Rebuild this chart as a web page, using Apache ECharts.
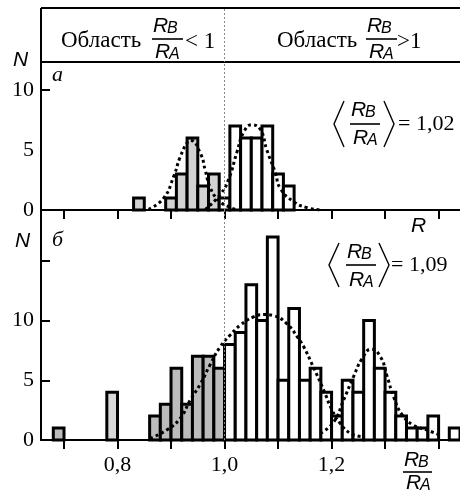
<!DOCTYPE html>
<html><head><meta charset="utf-8">
<script src="https://cdn.jsdelivr.net/npm/echarts@6/dist/echarts.min.js"></script>
<style>html,body{margin:0;padding:0;background:#fff}#c{width:460px;height:494px}</style>
</head><body><div id="c"></div>
<script>
// ---------- data ----------
const binWidth = 0.02;
const topBinStarts = [0.83,0.89,0.91,0.93,0.95,0.97,0.99,1.01,1.03,1.05,1.07,1.09,1.11];
const topCounts    = [1,   1,   3,   6,   2,   3,   1,   7,   6,   6,   7,   3,   2];
const bottomBinStarts = [0.68,0.78,0.86,0.88,0.90,0.92,0.94,0.96,0.98,1.00,1.02,1.04,1.06,1.08,1.10,1.12,1.14,1.16,1.18,1.20,1.22,1.24,1.26,1.28,1.30,1.32,1.34,1.36,1.38,1.42];
const bottomCounts    = [1,   4,   2,   3,   6,   3,   7,   7,   6,   8,   9,   13,  10,  17,  5,   11,  5,   6,   4,   2,   5,   4,   10,  6,   4,   2,   1,   1,   2,   1];
const lightBins = [0.78];

const topCurveLeft = [[0.858,0.06],[0.886,0.97],[0.905,2.8],[0.917,4.4],[0.930,5.6],[0.937,5.8],[0.955,4.7],[0.964,3.3],[0.973,1.9],[0.989,0.8],[1.011,0.2],[1.023,0.05]];
const topCurveRight = [[0.964,0.05],[0.992,1.3],[1.008,2.6],[1.023,4.8],[1.036,6.5],[1.051,7.1],[1.067,6.7],[1.079,5.0],[1.095,3.1],[1.104,1.8],[1.129,0.7],[1.154,0.2],[1.179,0]];
const bottomCurveMain = [[0.861,0.14],[0.892,0.84],[0.917,1.8],[0.936,3.35],[0.955,4.7],[0.973,6.3],[0.992,7.8],[1.011,8.8],[1.029,9.6],[1.054,10.3],[1.073,10.5],[1.092,10.4],[1.117,9.7],[1.138,8.5],[1.148,7.8],[1.166,6.1],[1.185,4.2],[1.201,2.5],[1.216,1.4],[1.235,0.56],[1.257,0.28]];
const bottomCurveRight = [[1.179,0.56],[1.204,1.5],[1.222,3.3],[1.241,5.3],[1.257,6.8],[1.274,7.6],[1.291,7.0],[1.304,5.3],[1.316,3.6],[1.332,2.1],[1.353,1.25],[1.378,0.84],[1.403,0.4]];

const xTickValues = [0.7,0.8,0.9,1.0,1.1,1.2,1.3,1.4];
const xLabelValues = [0.8,1.0,1.2];
const topYTicks = [10];
const topYLabels = [0,5,10];
const bottomYTicks = [5,10,15];
const bottomYLabels = [0,5,10];
const refValue = 1.0;

// ---------- styling ----------
const serif = '"Liberation Serif","Times New Roman",serif';
const sans = '"Liberation Sans",Arial,sans-serif';
const topGray = '#d2d2d2', darkGray = '#bcbcbc', lightGray = '#d9d9d9';
const fmt = v => v.toFixed(1).replace('.', ',');
const xMin = 0.657, xMax = 1.44;

const chart = echarts.init(document.getElementById('c'), null, {renderer:'canvas'});

function xAxisCfg(gi, showLabels) {
  return {
    type:'value', gridIndex:gi, min:xMin, max:xMax,
    axisLine:{show:true, onZero:false, lineStyle:{color:'#000', width:2}},
    axisTick:{show:true, inside:false, length:9, lineStyle:{color:'#000', width:2}, customValues:xTickValues},
    axisLabel:{show:showLabels, customValues:xLabelValues, formatter:fmt, fontFamily:serif, fontSize:22, color:'#000', margin:14},
    splitLine:{show:false}
  };
}
function yAxisCfg(gi, max, ticks, labels) {
  return {
    type:'value', gridIndex:gi, min:0, max:max,
    axisLine:{show:true, onZero:false, lineStyle:{color:'#000', width:2}},
    axisTick:{show:true, inside:true, length:9, lineStyle:{color:'#000', width:2}, customValues:ticks},
    axisLabel:{show:true, customValues:labels, fontFamily:serif, fontSize:22, color:'#000', margin:7},
    splitLine:{show:false}
  };
}
function barSeries(idx, starts, counts, fillFn) {
  const data = starts.map((s,i)=>[s, s+binWidth, counts[i]]);
  return {
    type:'custom', xAxisIndex:idx, yAxisIndex:idx, z:2, data:data,
    encode:{x:[0,1], y:2},
    renderItem:(params, api)=>{
      const a = api.coord([api.value(0), api.value(2)]);
      const b = api.coord([api.value(1), 0]);
      return {type:'rect', shape:{x:a[0], y:a[1], width:b[0]-a[0], height:b[1]-a[1]},
        style:{fill:fillFn(api.value(0)), stroke:'#000', lineWidth:3}};
    }
  };
}
function curve(idx, pts) {
  return {type:'line', xAxisIndex:idx, yAxisIndex:idx, z:3, data:pts, smooth:true, symbol:'none',
    lineStyle:{color:'#000', width:3, type:[3,3]}, silent:true};
}
function refLine(idx) {
  return {type:'line', xAxisIndex:idx, yAxisIndex:idx, z:1, data:[], silent:true,
    markLine:{symbol:'none', silent:true, label:{show:false},
      lineStyle:{color:'#888', width:1, type:[2,2]}, data:[{xAxis:refValue}]}};
}

chart.setOption({
  animation:false,
  grid:[
    {left:41, top:62, width:419, height:148},
    {left:41, top:210, width:419, height:230}
  ],
  xAxis:[xAxisCfg(0,false), xAxisCfg(1,true)],
  yAxis:[yAxisCfg(0,12.33,topYTicks,topYLabels), yAxisCfg(1,19.25,bottomYTicks,bottomYLabels)],
  series:[
    refLine(0), refLine(1),
    barSeries(0, topBinStarts, topCounts, s => (s + binWidth/2 < 1 - 1e-9) ? topGray : '#fff'),
    barSeries(1, bottomBinStarts, bottomCounts, s => lightBins.some(v=>Math.abs(v-s)<1e-9) ? lightGray : (s + binWidth <= 1 + 1e-9 ? darkGray : '#fff')),
    curve(0, topCurveLeft), curve(0, topCurveRight),
    curve(1, bottomCurveMain), curve(1, bottomCurveRight)
  ]
});

// ---------- annotations ----------
function txt(x, y, text, o) {
  o = o || {};
  return {type:'text', x:x, y:y, z:10, style:{text:text, fill:'#000',
    fontFamily:o.family||serif, fontSize:o.size||22, fontStyle:o.style||'normal',
    align:o.align||'left', verticalAlign:'middle'}};
}
function line(x1,y1,x2,y2,w,dash,color) {
  return {type:'line', z:10, shape:{x1:x1,y1:y1,x2:x2,y2:y2}, style:{stroke:color||'#000', lineWidth:w||2, lineDash:dash||null}};
}
function frac(x, yl, up, down, w) {
  up = up || 13; down = down || 13; w = w || 31;
  return [
    txt(x+1, yl-up, 'R', {family:sans, style:'italic', size:21}),
    txt(x+15, yl-up+3, 'B', {family:sans, style:'italic', size:16}),
    line(x, yl, x+w, yl, 1.6),
    txt(x+3, yl+down, 'R', {family:sans, style:'italic', size:21}),
    txt(x+17, yl+down+3, 'A', {family:sans, style:'italic', size:16})
  ];
}
function brackets(xl, xr, yc, h) {
  return [
    {type:'polyline', z:10, shape:{points:[[xl+10, yc-h/2],[xl, yc],[xl+10, yc+h/2]]}, style:{stroke:'#000', lineWidth:1.4, fill:null}},
    {type:'polyline', z:10, shape:{points:[[xr-10, yc-h/2],[xr, yc],[xr-10, yc+h/2]]}, style:{stroke:'#000', lineWidth:1.4, fill:null}}
  ];
}
const refPx = chart.convertToPixel({xAxisIndex:0}, refValue);
let g = [];
g.push(line(41, 8, 460, 8, 2));
g.push(line(41, 62, 460, 62, 2));
g.push(line(41, 8, 41, 440, 2));
g.push(line(refPx, 9, refPx, 62, 1, [2,2], '#888'));
g.push(txt(61, 41, 'Область', {size:23}));
g = g.concat(frac(152, 39));
g.push(txt(185, 42, '< 1', {size:23}));
g.push(txt(277, 41, 'Область', {size:23}));
g = g.concat(frac(366, 39));
g.push(txt(397, 42, '>1', {size:23}));
g.push(txt(13, 60, 'N', {family:sans, style:'italic', size:21}));
g.push(txt(15, 241, 'N', {family:sans, style:'italic', size:21}));
g.push(txt(52, 75, 'а', {style:'italic'}));
g.push(txt(52, 240, 'б', {style:'italic'}));
g = g.concat(brackets(334, 394, 124, 46));
g = g.concat(frac(350, 124, 14, 14, 30));
g.push(txt(398, 124, '= 1,02', {size:22}));
g = g.concat(brackets(329, 389, 265, 44));
g = g.concat(frac(346, 265, 13, 15, 30));
g.push(txt(391, 265, '= 1,09', {size:22}));
g.push(txt(411, 226, 'R', {family:sans, style:'italic', size:21}));
g = g.concat(frac(403, 472, 12, 11, 29));
chart.setOption({graphic:g});
</script>
</body></html>
